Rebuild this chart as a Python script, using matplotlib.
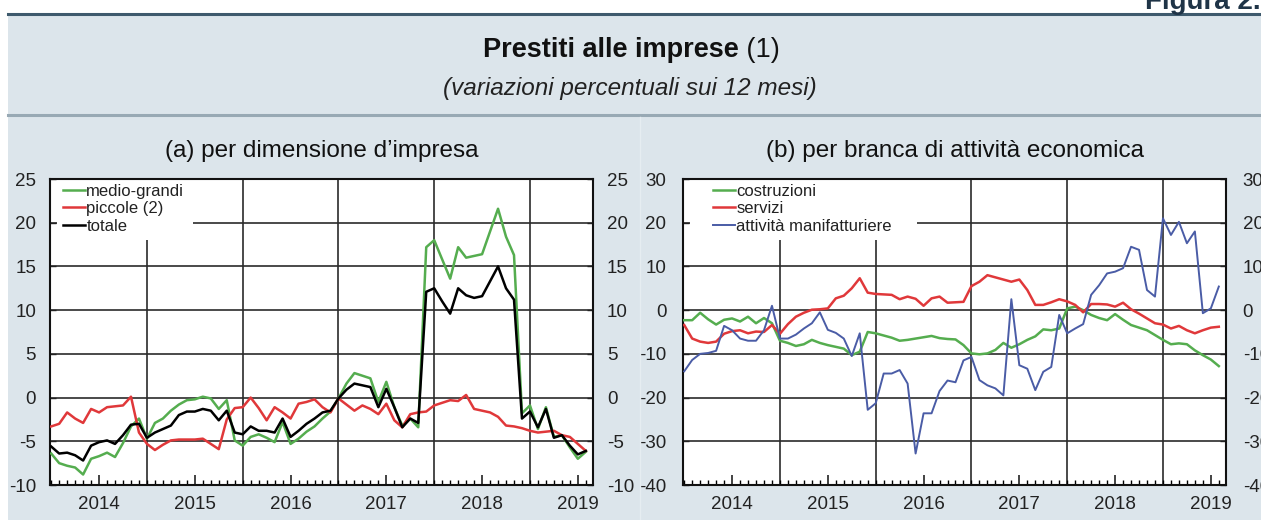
import numpy as np
import matplotlib
matplotlib.use("Agg")
import matplotlib.pyplot as plt
from matplotlib.patches import Rectangle

plt.rcParams['font.family'] = ['Liberation Sans', 'DejaVu Sans']
plt.rcParams['axes.unicode_minus'] = False

# mesi da gennaio 2014 (0) ad agosto 2019 (67)
mesi = np.arange(68)
anni = ['2014', '2015', '2016', '2017', '2018', '2019']

# (a) per dimensione d'impresa
medio_grandi = [-6.4, -7.5, -7.8, -8.0, -8.8, -7.0, -6.7, -6.3, -6.8, -5.2, -3.3, -2.4,
                -4.7, -2.9, -2.4, -1.5, -0.8, -0.3, -0.2, 0.1, -0.1, -1.3, -0.3, -4.9,
                -5.5, -4.5, -4.2, -4.6, -5.1, -2.8, -5.3, -4.7, -3.9, -3.3, -2.4, -1.6,
                -0.1, 1.6, 2.8, 2.5, 2.2, -0.5, 1.8, -1.1, -3.2, -2.4, -3.4, 17.2,
                18.0, 15.8, 13.6, 17.2, 16.0, 16.2, 16.4, 19.0, 21.6, 18.4, 16.3, -1.8,
                -0.9, -3.6, -1.1, -4.5, -4.3, -5.7, -7.0, -6.2]
piccole = [-3.3, -3.0, -1.7, -2.4, -2.9, -1.3, -1.7, -1.1, -1.0, -0.9, 0.1, -4.0,
           -5.3, -6.0, -5.4, -4.9, -4.8, -4.8, -4.8, -4.7, -5.3, -5.9, -2.5, -1.2,
           -1.1, 0.0, -1.2, -2.6, -1.1, -1.7, -2.4, -0.7, -0.5, -0.2, -1.1, -1.7,
           -0.1, -0.8, -1.5, -0.9, -1.3, -1.9, -0.7, -2.6, -3.4, -1.9, -1.7, -1.6,
           -0.9, -0.6, -0.3, -0.4, 0.3, -1.3, -1.5, -1.7, -2.2, -3.2, -3.3, -3.5,
           -3.8, -4.0, -3.9, -3.8, -4.3, -4.5, -5.3, -6.1]
totale = [-5.6, -6.4, -6.3, -6.6, -7.2, -5.5, -5.1, -4.9, -5.3, -4.3, -3.1, -3.0,
          -4.6, -4.0, -3.6, -3.2, -2.0, -1.6, -1.6, -1.3, -1.5, -2.6, -1.5, -4.0,
          -4.2, -3.3, -3.8, -3.8, -4.0, -2.4, -4.5, -3.8, -3.0, -2.4, -1.7, -1.5,
          -0.1, 0.9, 1.6, 1.4, 1.2, -1.1, 1.0, -1.1, -3.4, -2.4, -2.9, 12.1,
          12.5, 11.0, 9.6, 12.5, 11.7, 11.4, 11.6, 13.3, 15.0, 12.5, 11.2, -2.4,
          -1.6, -3.4, -1.3, -4.6, -4.3, -5.5, -6.5, -6.1]

# (b) per branca di attività economica
costruzioni = [-2.3, -2.3, -0.6, -2.1, -3.3, -2.2, -1.9, -2.6, -1.5, -3.0, -1.8, -3.0,
               -7.0, -7.5, -8.2, -7.8, -6.8, -7.5, -8.0, -8.4, -8.8, -10.3, -9.5, -5.0,
               -5.3, -5.8, -6.3, -7.0, -6.8, -6.5, -6.2, -5.9, -6.4, -6.6, -6.7, -8.0,
               -9.9, -10.1, -9.9, -9.1, -7.5, -8.6, -7.8, -6.8, -6.0, -4.4, -4.6, -4.2,
               0.4, 0.8, 0.0, -1.1, -1.8, -2.3, -0.9, -2.2, -3.4, -4.0, -4.6, -5.7,
               -6.8, -7.8, -7.6, -7.8, -9.2, -10.3, -11.3, -12.8]
servizi = [-3.4, -6.5, -7.2, -7.5, -7.2, -5.4, -4.8, -4.6, -5.3, -4.9, -5.0, -3.4,
           -5.4, -3.2, -1.5, -0.6, 0.1, 0.2, 0.4, 2.7, 3.3, 5.0, 7.3, 4.0,
           3.7, 3.6, 3.5, 2.5, 3.1, 2.6, 1.0, 2.7, 3.1, 1.7, 1.8, 1.9,
           5.5, 6.5, 8.0, 7.5, 7.0, 6.5, 7.0, 4.6, 1.2, 1.2, 1.8, 2.5,
           2.0, 1.2, -0.5, 1.4, 1.4, 1.3, 0.8, 1.7, 0.2, -0.8, -1.9, -3.0,
           -3.3, -4.2, -3.6, -4.6, -5.3, -4.6, -4.0, -3.8]
manifatturiere = [-14.0, -11.4, -10.0, -9.8, -9.3, -3.6, -4.6, -6.5, -7.0, -7.0, -4.6, 1.0,
                  -6.5, -6.5, -5.6, -4.2, -3.0, -0.5, -4.5, -5.2, -6.5, -10.5, -5.3, -22.8,
                  -21.3, -14.5, -14.5, -13.7, -16.8, -32.8, -23.6, -23.6, -18.5, -16.1, -16.5, -11.5,
                  -10.7, -16.0, -17.2, -17.9, -19.5, 2.5, -12.6, -13.4, -18.3, -14.1, -13.0, -1.1,
                  -5.3, -4.2, -3.2, 3.5, 5.7, 8.4, 8.8, 9.6, 14.5, 13.8, 4.6, 3.1,
                  21.0, 17.2, 20.2, 15.3, 18.0, -0.7, 0.4, 5.4]

verde = '#55ad4f'
rosso = '#e0383a'
blu = '#4a5ca6'
sfondo = '#dce5eb'

fig = plt.figure(figsize=(12.61, 5.20), dpi=100)
fig.patch.set_facecolor('white')

# sfondo e intestazione
fig.patches.append(Rectangle((8/1261, 0), 1, 1 - 15/520, transform=fig.transFigure,
                             facecolor=sfondo, edgecolor='none', zorder=-10))
fig.add_artist(plt.Line2D([8/1261, 1], [1 - 14/520] * 2, color='#3e5a6d', lw=2.2))
fig.add_artist(plt.Line2D([8/1261, 1], [1 - 115/520] * 2, color='#98a9b4', lw=2.2))
fig.add_artist(plt.Line2D([640/1261] * 2, [0, 1 - 117/520], color='#e6edf1', lw=1))

fig.text(1.012, 1 - 9/520, 'Figura 2.5', ha='right', va='baseline', fontsize=20,
         fontweight='bold', color='#1f3447')
fig.text(739/1261, 1 - 50/520, 'Prestiti alle imprese', ha='right', va='center',
         fontsize=19.5, fontweight='bold', color='#111')
fig.text(739/1261, 1 - 50/520, ' (1)', ha='left', va='center', fontsize=19.5, color='#111')
fig.text(630/1261, 1 - 88/520, '(variazioni percentuali sui 12 mesi)', ha='center',
         va='center', fontsize=17.5, style='italic', color='#222')

ax_a = fig.add_axes([50/1261, 35/520, 543/1261, 306/520])
ax_b = fig.add_axes([683/1261, 35/520, 543/1261, 306/520])

pannelli = [
    (ax_a, '(a) per dimensione d\u2019impresa', (-10, 25), np.arange(-10, 26, 5),
     [(medio_grandi, 'medio-grandi', verde, 1.8), (piccole, 'piccole (2)', rosso, 1.8),
      (totale, 'totale', 'black', 1.8)], 0.024, 0.263),
    (ax_b, '(b) per branca di attività economica', (-40, 30), np.arange(-40, 31, 10),
     [(costruzioni, 'costruzioni', verde, 1.8), (servizi, 'servizi', rosso, 1.8),
      (manifatturiere, 'attività manifatturiere', blu, 1.4)], 0.055, 0.431),
]

for ax, titolo, ylim, yticks, serie, xleg, wbox in pannelli:
    ax.set_facecolor('white')
    ax.set_xlim(-0.15, 67.9)
    ax.set_ylim(*ylim)
    ax.set_yticks(yticks)
    for y in yticks[1:-1]:
        ax.axhline(y, color='#2b2b2b', lw=1.2, zorder=1)
    for m in range(12, 68, 12):
        ax.axvline(m, color='#2b2b2b', lw=1.2, zorder=1)
    # riquadro bianco della legenda
    ax.add_patch(Rectangle((0.013, 0.80), wbox - 0.013, 0.2, transform=ax.transAxes,
                           facecolor='white', edgecolor='none', zorder=1.5))
    for valori, nome, colore, lw in serie:
        ax.plot(mesi, valori, color=colore, lw=lw, label=nome, zorder=3)
    ax.set_xticks(np.arange(6, 68, 12))
    ax.set_xticklabels(anni)
    ax.set_xticks(np.arange(0, 68), minor=True)
    ax.tick_params(axis='x', which='major', direction='in', length=7, width=1.2,
                   labelsize=13.5, pad=8, colors='#222')
    ax.tick_params(axis='x', which='minor', direction='in', length=3.5, width=1)
    ax.tick_params(axis='y', direction='in', length=4, width=1, left=True, right=True,
                   labelleft=True, labelright=True, labelsize=13.5, colors='#222')
    ax.tick_params(axis='y', which='major', pad=12)
    for s in ax.spines.values():
        s.set_linewidth(1.5)
        s.set_color('#111')
    ax.set_title(titolo, fontsize=17.5, pad=16, color='#111')
    leg = ax.legend(loc='upper left', bbox_to_anchor=(xleg, 0.985), frameon=False,
                    fontsize=12, handlelength=1.3, handletextpad=0.1, labelspacing=0.15,
                    borderpad=0, borderaxespad=0)
    for t in leg.get_texts():
        t.set_color('#222')

ax_a.tick_params(axis='y', which='major', pad=10)

fig.savefig('out.png', dpi=100)
